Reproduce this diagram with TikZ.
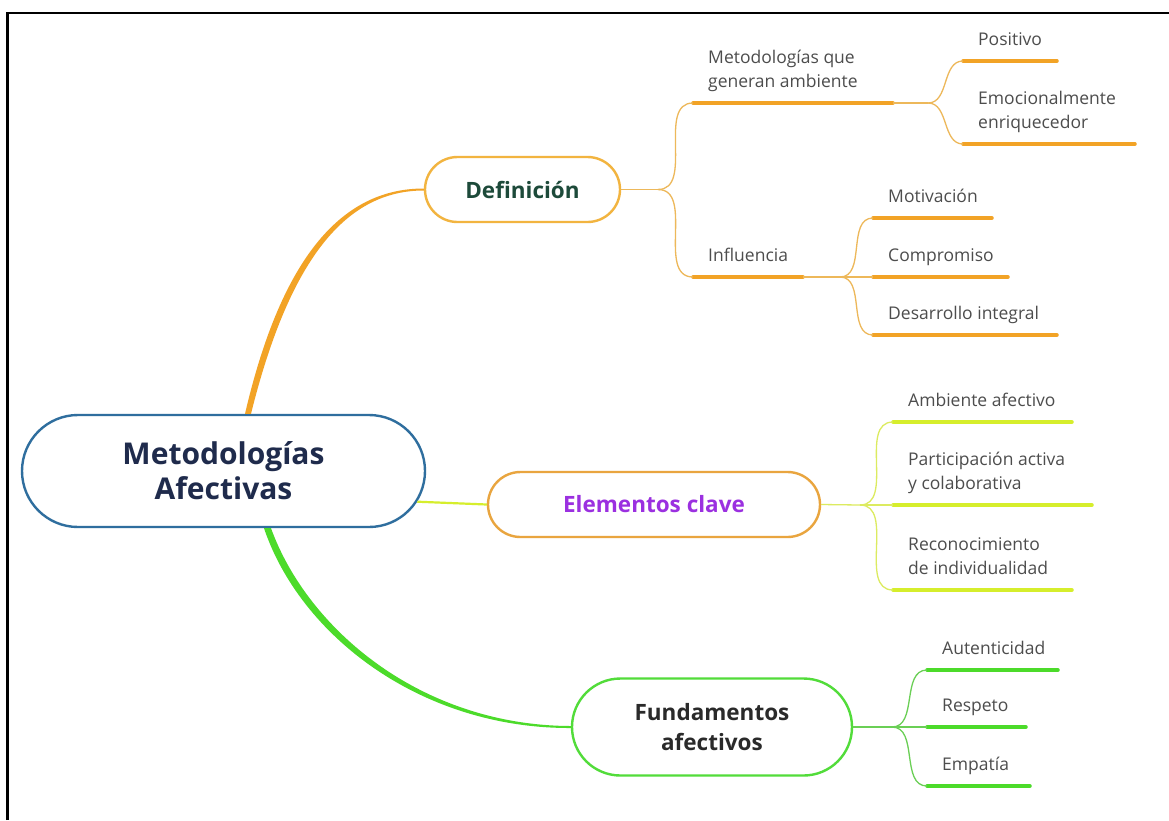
\documentclass[tikz,border=0pt]{standalone}
\usepackage{fontspec}
\setmainfont{Open Sans}
\usetikzlibrary{shapes.misc}
\definecolor{rootblue}{HTML}{2F6E9E}
\definecolor{roottxt}{HTML}{1F2B4C}
\definecolor{deftxt}{HTML}{1D4A3A}
\definecolor{elemtxt}{HTML}{9B30E0}
\definecolor{fundtxt}{HTML}{2A2A2A}
\definecolor{leaftxt}{HTML}{4D4D4D}
\definecolor{ornu}{HTML}{F2A326}
\definecolor{ornt}{HTML}{EDB85A}
\definecolor{defborder}{HTML}{F2B440}
\definecolor{elemborder}{HTML}{E9A53F}
\definecolor{yelu}{HTML}{D6EE2C}
\definecolor{yelt}{HTML}{DCEB60}
\definecolor{grnu}{HTML}{4CDB2A}
\definecolor{grnt}{HTML}{6ACF55}
\definecolor{fundborder}{HTML}{52DC3A}
\newcommand\leafitem[7]{%
  \coordinate (#1-a) at (#2,#3);
  \coordinate (#1-b) at (#4,#3);
  \node[leaf] (#1) at (#2+15,#5) {#6};
  \draw[uline,#7] (#1-a) -- (#1-b);}
\begin{document}
\begin{tikzpicture}[x=1pt,y=-1pt,
  pill/.style={rounded rectangle, draw, line width=2.4pt, fill=white, align=center, inner sep=0pt},
  subfont/.style={font=\bfseries\fontsize{22.5}{30}\selectfont},
  leaf/.style={anchor=base west, inner sep=0pt, align=left, text=leaftxt, font=\fontsize{17.5}{23.5}\selectfont},
  uline/.style={line width=3.5pt, line cap=round},
  twig/.style={line width=1.3pt},
]
\useasboundingbox (0,0) rectangle (1169,820);
\fill[white] (0,0) rectangle (1169,820);
\draw[line width=2.6pt] (7.5,820) -- (7.5,13) -- (1169,13);

% main nodes
\node[pill, draw=rootblue, minimum width=403pt, minimum height=112pt, text=roottxt,
      font=\bfseries\fontsize{30}{35}\selectfont] (root) at (223.5,471) {Metodologías\\Afectivas};
\node[pill, draw=defborder, minimum width=195pt, minimum height=65pt, text=deftxt, subfont] (def) at (522.5,189.5) {Definición};
\node[pill, draw=elemborder, minimum width=332pt, minimum height=65pt, text=elemtxt, subfont] (elem) at (654,504.5) {Elementos clave};
\node[pill, draw=fundborder, minimum width=280pt, minimum height=97pt, text=fundtxt, subfont] (fund) at (712,727) {Fundamentos\\afectivos};

% root connectors (tapered)
\fill[ornu] ([xshift=21.5pt]root.north) .. controls (282,255) and (343,188.5) .. ([yshift=1pt]def.west)
  -- ([yshift=-1pt]def.west) .. controls (347,190.5) and (290,257) .. ([xshift=27.5pt]root.north) -- cycle;
\fill[grnu] ([xshift=40.5pt]root.south) .. controls (300,635) and (420,728.5) .. ([yshift=-1pt]fund.west)
  -- ([yshift=1pt]fund.west) .. controls (422,725.5) and (308,630) .. ([xshift=47.5pt]root.south) -- cycle;
\draw[yelu, line width=2.2pt] (root.-9.5) -- (elem.west);

% hubs
\coordinate (hdef) at (658,189.5);
\coordinate (hmeto) at (928,103);
\coordinate (hinfl) at (840,277);
\coordinate (helem) at (860,505);
\coordinate (hfund) at (892,727);

% Definicion leaves
\leafitem{meto}{693}{103}{893}{87}{Metodologías que\\generan ambiente}{ornu}
\leafitem{infl}{693}{277}{803}{261}{Influencia}{ornu}
\leafitem{posi}{963}{61}{1057}{45.5}{Positivo}{ornu}
\leafitem{emoc}{963}{144}{1135}{128}{Emocionalmente\\enriquecedor}{ornu}
\leafitem{moti}{873}{218}{992}{202}{Motivación}{ornu}
\leafitem{comp}{873}{277}{1008}{261}{Compromiso}{ornu}
\leafitem{desa}{873}{335}{1057}{319}{Desarrollo integral}{ornu}

\draw[twig, ornt] (def.east) -- (hdef);
\draw[twig, ornt] (hdef) to[out=0,in=180] (meto-a);
\draw[twig, ornt] (hdef) to[out=0,in=180] (infl-a);
\draw[twig, ornt] (meto-b) -- (hmeto);
\draw[twig, ornt] (hmeto) to[out=0,in=180] (posi-a);
\draw[twig, ornt] (hmeto) to[out=0,in=180] (emoc-a);
\draw[twig, ornt] (infl-b) -- (hinfl);
\draw[twig, ornt] (hinfl) to[out=0,in=180] (moti-a);
\draw[twig, ornt] (hinfl) -- (comp-a);
\draw[twig, ornt] (hinfl) to[out=0,in=180] (desa-a);

% Elementos clave leaves
\leafitem{ambi}{893}{422}{1072}{406}{Ambiente afectivo}{yelu}
\leafitem{part}{893}{505}{1092}{489}{Participación activa\\y colaborativa}{yelu}
\leafitem{reco}{893}{590}{1072}{574}{Reconocimiento\\de individualidad}{yelu}
\draw[twig, yelt] (elem.east) -- (helem);
\draw[twig, yelt] (helem) to[out=0,in=180] (ambi-a);
\draw[twig, yelt] (helem) -- (part-a);
\draw[twig, yelt] (helem) to[out=0,in=180] (reco-a);

% Fundamentos leaves
\leafitem{aute}{927}{670}{1058}{654}{Autenticidad}{grnu}
\leafitem{resp}{927}{727}{1026}{711}{Respeto}{grnu}
\leafitem{empa}{927}{786}{1030}{770}{Empatía}{grnu}
\draw[twig, grnt] (fund.east) -- (hfund);
\draw[twig, grnt] (hfund) to[out=0,in=180] (aute-a);
\draw[twig, grnt] (hfund) -- (resp-a);
\draw[twig, grnt] (hfund) to[out=0,in=180] (empa-a);
\end{tikzpicture}
\end{document}
